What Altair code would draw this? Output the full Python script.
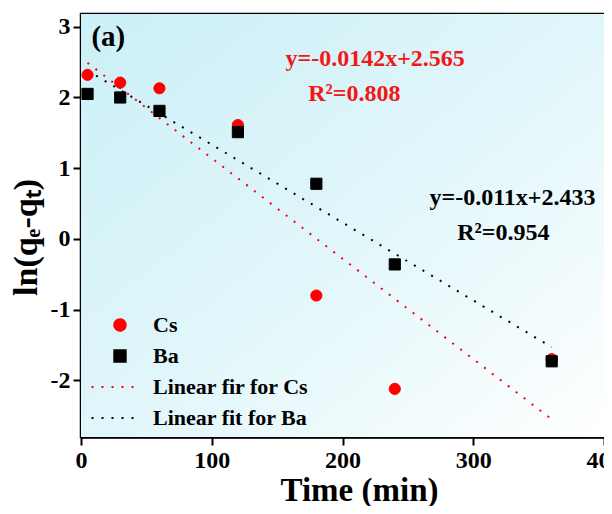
import altair as alt
import pandas as pd

# ---- data ----
time = [5, 30, 60, 120, 180, 240, 360]
cs_vals = [2.32, 2.21, 2.13, 1.61, -0.80, -2.12, -1.70]
ba_vals = [2.05, 2.00, 1.81, 1.51, 0.78, -0.36, -1.73]

fit_x = [5, 360]
cs_fit = [2.49, -2.55]
ba_fit = [2.38, -1.53]

series = ["Cs", "Ba", "Linear fir for Cs", "Linear fit for Ba"]
series_colors = ["#ff0000", "#000000", "#ff0000", "#000000"]
series_shapes = ["circle", "square", "M-5.0,0H3.6", "M-5.0,0H3.6"]
series_dash = [[1, 0], [1, 0], [2, 8], [2, 8]]

x_ticks = [0, 100, 200, 300, 400]
y_ticks = [-2, -1, 0, 1, 2, 3]

ann_text = ["y=-0.0142x+2.565", "R\u00b2=0.808", "y=-0.011x+2.433", "R\u00b2=0.954", "(a)"]
ann_x = [225, 209, 330, 323, 8]
ann_y = [2.45, 1.95, 0.48, -0.01, 2.73]
ann_color = ["#f01818", "#f01818", "#000000", "#000000", "#000000"]
ann_align = ["center", "center", "center", "center", "left"]

W, H = 523, 423
FONT = "Liberation Serif"

pts = pd.DataFrame({
    "time": time * 2,
    "value": cs_vals + ba_vals,
    "series": ["Cs"] * len(time) + ["Ba"] * len(time),
})
fits = pd.DataFrame({
    "time": fit_x * 2,
    "value": cs_fit + ba_fit,
    "series": [series[2]] * 2 + [series[3]] * 2,
})
ann = pd.DataFrame({"x": ann_x, "y": ann_y, "text": ann_text, "color": ann_color, "align": ann_align})

xscale = alt.Scale(domain=[0, 400], nice=False)
yscale = alt.Scale(domain=[-2.8, 3.18], nice=False)

leg = alt.Legend(orient="none", legendX=28, legendY=300, title=None, padding=0)

xenc = alt.X("time:Q", scale=xscale,
             axis=alt.Axis(values=x_ticks, title="Time (min)", grid=False, labelFlush=False,
                           titleX=278, labelExpr="'' + datum.value"))
yenc = alt.Y("value:Q", scale=yscale,
             axis=alt.Axis(values=y_ticks, title="ln(q\u2091-q\u209c)", grid=False, labelFlush=False,
                           titleY=223, labelExpr="'' + datum.value"))

bg = alt.Chart(pd.DataFrame({"a": [0]})).mark_rect(
    color=alt.LinearGradient(
        gradient="linear",
        stops=[alt.GradientStop(color="#cbf0f7", offset=0),
               alt.GradientStop(color="#e0f6fa", offset=0.5),
               alt.GradientStop(color="#ffffff", offset=1)],
        x1=0, y1=0, x2=1, y2=1,
    )
).encode(x=alt.value(0), x2=alt.value(W), y=alt.value(0), y2=alt.value(H))

lines = alt.Chart(fits).mark_line(strokeWidth=2).encode(
    x=xenc, y=yenc,
    stroke=alt.Stroke("series:N", scale=alt.Scale(domain=series, range=series_colors), legend=leg),
    strokeDash=alt.StrokeDash("series:N", scale=alt.Scale(domain=series, range=series_dash), legend=leg),
)

points = alt.Chart(pts).mark_point(filled=True, size=125, opacity=1, strokeWidth=1).encode(
    x=xenc, y=yenc,
    fill=alt.Fill("series:N", scale=alt.Scale(domain=series, range=series_colors), legend=leg),
    stroke=alt.Stroke("series:N", scale=alt.Scale(domain=series, range=series_colors), legend=leg),
    shape=alt.Shape("series:N", scale=alt.Scale(domain=series, range=series_shapes), legend=leg),
)

texts_c = alt.Chart(ann[ann["align"] == "center"]).mark_text(
    font=FONT, fontWeight="bold", fontSize=24, align="center", baseline="alphabetic"
).encode(
    x=alt.X("x:Q", scale=xscale), y=alt.Y("y:Q", scale=yscale),
    text="text:N", color=alt.Color("color:N", scale=None),
)
texts_l = alt.Chart(ann[ann["align"] == "left"]).mark_text(
    font=FONT, fontWeight="bold", fontSize=29, align="left", baseline="alphabetic"
).encode(
    x=alt.X("x:Q", scale=xscale), y=alt.Y("y:Q", scale=yscale),
    text="text:N", color=alt.Color("color:N", scale=None),
)

chart = alt.layer(bg, lines, points, texts_c, texts_l).properties(
    width=W, height=H,
    padding={"left": 73, "top": 6, "right": 0, "bottom": 69},
    autosize=alt.AutoSizeParams(type="none"),
    background="white",
).configure_view(
    stroke="black", strokeWidth=2.5
).configure_axis(
    labelFont=FONT, labelFontWeight="bold", labelFontSize=24, labelColor="black",
    titleFont=FONT, titleFontWeight="bold", titleColor="black",
    domainColor="black", domainWidth=2.5, tickColor="black", tickWidth=2, tickSize=8,
    labelPadding=3,
).configure_axisY(
    titlePadding=7, titleFontSize=34
).configure_axisX(
    titlePadding=2, titleFontSize=33
).configure_legend(
    labelFont=FONT, labelFontSize=22, labelFontWeight="bold", labelColor="black",
    symbolSize=130, symbolStrokeWidth=2, labelOffset=22, rowPadding=9,
    symbolOpacity=1,
)

chart.save("out.html", embed_options={"renderer": "svg", "actions": False})
